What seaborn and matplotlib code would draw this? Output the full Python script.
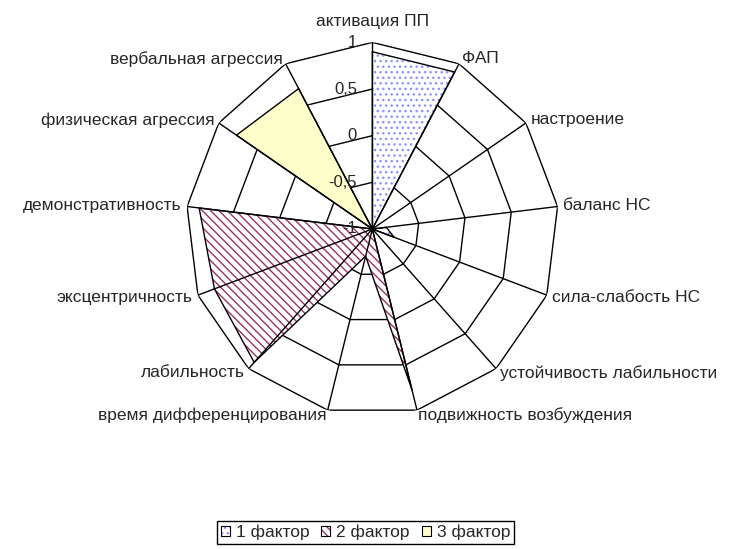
import numpy as np
import pandas as pd
import seaborn as sns
import matplotlib.pyplot as plt
from matplotlib.patches import Patch
from matplotlib.legend_handler import HandlerTuple

# chart data
categories = ["активация ПП", "ФАП", "настроение", "баланс НС", "сила-слабость НС",
              "устойчивость лабильности", "подвижность возбуждения",
              "время дифференцирования", "лабильность", "эксцентричность",
              "демонстративность", "физическая агрессия", "вербальная агрессия"]
factor1 = [0.9, 0.9, -1, -0.85, -0.75, -1, -1, -1, -1, -1, -1, -1, -1]
factor2 = [-1, -1, -1, -1, -1, -1, 0.78, -0.7, 0.91, 0.81, 0.87, -1, -1]
factor3 = [-1, -1, -1, -1, -1, -1, -1, -1, -1, -1, -1, 0.77, 0.7]
series_names = ["1 фактор", "2 фактор", "3 фактор"]
r_ticks = [-1, -0.5, 0, 0.5, 1]
r_tick_labels = ["-1", "-0,5", "0", "0,5", "1"]

sns.set_theme(style="white")
plt.rcParams['font.family'] = ['Liberation Sans', 'DejaVu Sans']
plt.rcParams['hatch.linewidth'] = 1.0

n = len(categories)
theta = np.arange(n) * 2 * np.pi / n
theta_closed = np.append(theta, theta[0])

fig = plt.figure(figsize=(7.31, 5.49), dpi=100)
ax = fig.add_axes([0.2541, 0.2430, 0.5105, 0.6798], projection='polar')
ax.set_theta_zero_location('N')
ax.set_theta_direction(-1)
ax.set_ylim(-1, 1)
ax.grid(False)
ax.spines['polar'].set_visible(False)
ax.set_xticks([])
ax.set_yticks([])

# polygon rings (behind the fills)
for level in r_ticks[1:]:
    ax.plot(theta_closed, [level] * (n + 1), color='black', lw=1.0, zorder=1)

# series
styles = [
    dict(face='white', hatch='...', hcolor='#9090ff'),
    dict(face='white', hatch='\\\\\\\\', hcolor='#993366'),
    dict(face='#ffffcc', hatch=None, hcolor='none'),
]
handles = []
for vals, st, name in zip([factor1, factor2, factor3], styles, series_names):
    v = np.append(vals, vals[0])
    ax.fill(theta_closed, v, facecolor=st['face'], edgecolor=st['hcolor'],
            hatch=st['hatch'], lw=0, zorder=2)
    df = pd.DataFrame({'theta': theta_closed, 'r': v})
    sns.lineplot(data=df, x='theta', y='r', ax=ax, sort=False, estimator=None,
                 color='black', lw=1.0, zorder=3)
    handles.append((Patch(facecolor=st['face'], edgecolor=st['hcolor'],
                          hatch=st['hatch'], lw=0),
                    Patch(facecolor='none', edgecolor='black', lw=0.8)))

ax.set_xlabel('')
ax.set_ylabel('')
ax.set_ylim(-1, 1)

# spokes (on top of the fills)
for t in theta:
    ax.plot([t, t], [-1, 1], color='black', lw=1.0, zorder=4)

# value axis labels
for r, lbl in zip(r_ticks, r_tick_labels):
    ax.annotate(lbl, xy=(0, r), xytext=(-11, 0), textcoords='offset points',
                ha='right', va='center', fontsize=12, zorder=6)

# category labels
for t, cat in zip(theta, categories):
    s, c = np.sin(t), np.cos(t)
    if abs(s) < 0.01:
        ha, va, off = 'center', 'bottom', (0, 10)
    else:
        ha = 'left' if s > 0 else 'right'
        va = 'center'
        off = (4 * s, 4 * c)
    ax.annotate(cat, xy=(t, 1), xytext=off, textcoords='offset points',
                ha=ha, va=va, fontsize=12.5, annotation_clip=False)

fig.legend(handles, series_names, handler_map={tuple: HandlerTuple(ndivide=1, pad=0)},
           loc='lower center', bbox_to_anchor=(0.5, 0.0), ncol=3, fontsize=12.5,
           frameon=True, fancybox=False, edgecolor='black', framealpha=1,
           handlelength=0.5, handleheight=0.5, handletextpad=0.35,
           columnspacing=0.7, borderpad=0.2, borderaxespad=0.3)

fig.savefig("out.png", dpi=100)
